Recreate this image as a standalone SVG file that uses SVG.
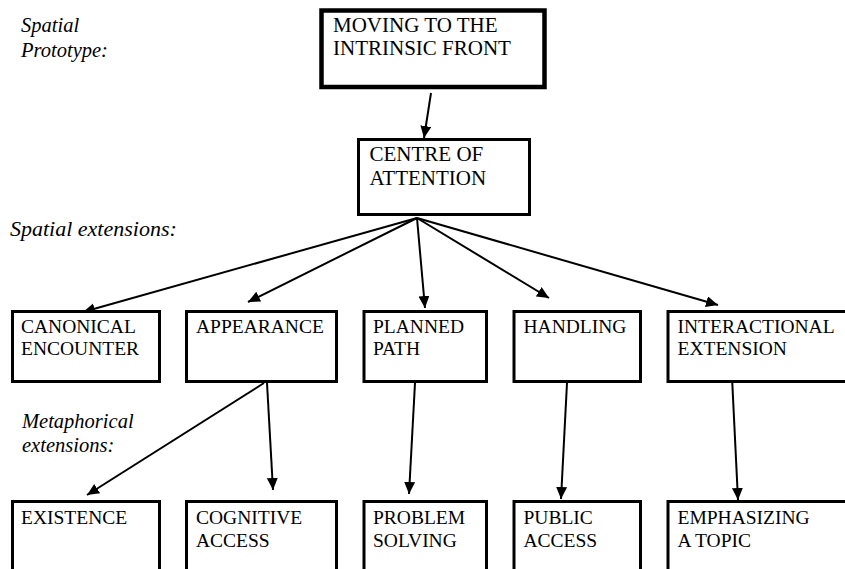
<svg xmlns="http://www.w3.org/2000/svg" width="845" height="569" viewBox="0 0 845 569" font-family="Liberation Serif, Times New Roman, serif">
<defs>
<style>
.box{fill:#fff;stroke:#000;stroke-width:3}
.thick{stroke-width:4.5}
.t{fill:#000}
.big{font-size:21px}
.med{font-size:19.5px}
.lab{font-style:italic;font-size:20.5px;fill:#000}
.c{stroke:#000;stroke-width:2;fill:none;marker-end:url(#ah)}
</style>
<marker id="ah" markerUnits="userSpaceOnUse" markerWidth="13" markerHeight="12" refX="12" refY="5.5" orient="auto">
<path d="M0,0 L12,5.5 L0,11 z" fill="#000"/>
</marker>
</defs>
<rect width="845" height="569" fill="#fff"/>
<g id="labels">
<text class="lab" x="21" y="32">Spatial</text>
<text class="lab" x="21" y="56.5">Prototype:</text>
<text class="lab" x="10" y="236" style="font-size:22px">Spatial extensions:</text>
<text class="lab" x="22" y="428">Metaphorical</text>
<text class="lab" x="22" y="452">extensions:</text>
</g>
<g id="connectors">
<line class="c" x1="431" y1="93" x2="424" y2="138"/>
<line class="c" x1="417" y1="218" x2="83" y2="312"/>
<line class="c" x1="417" y1="218" x2="248" y2="302"/>
<line class="c" x1="417" y1="218" x2="425" y2="308"/>
<line class="c" x1="417" y1="218" x2="549" y2="298"/>
<line class="c" x1="417" y1="218" x2="718" y2="305"/>
<line class="c" x1="264" y1="383" x2="87" y2="495"/>
<line class="c" x1="267" y1="383" x2="273" y2="490"/>
<line class="c" x1="415" y1="383" x2="409" y2="494"/>
<line class="c" x1="567" y1="383" x2="561" y2="499"/>
<line class="c" x1="732" y1="377" x2="738" y2="500"/>
</g>
<g id="n-moving">
<rect class="box thick" x="321.5" y="10.5" width="223" height="76.5"/>
<text class="t big" x="333" y="32">MOVING TO THE</text>
<text class="t big" x="333" y="55">INTRINSIC FRONT</text>
</g>
<g id="n-centre">
<rect class="box" x="358.5" y="139.5" width="171" height="75"/>
<text class="t big" x="369.5" y="161">CENTRE OF</text>
<text class="t big" x="369.5" y="185">ATTENTION</text>
</g>
<g id="n-canonical">
<rect class="box" x="12.5" y="311.5" width="147" height="70"/>
<text class="t med" x="21" y="333">CANONICAL</text>
<text class="t med" x="21" y="355">ENCOUNTER</text>
</g>
<g id="n-appearance">
<rect class="box" x="186.5" y="311.5" width="150" height="70"/>
<text class="t med" x="196" y="333">APPEARANCE</text>
</g>
<g id="n-planned">
<rect class="box" x="364" y="311.5" width="122.5" height="70"/>
<text class="t med" x="373" y="333">PLANNED</text>
<text class="t med" x="373" y="355">PATH</text>
</g>
<g id="n-handling">
<rect class="box" x="514" y="311.5" width="126.5" height="70"/>
<text class="t med" x="523.5" y="333">HANDLING</text>
</g>
<g id="n-interactional">
<rect class="box" x="668" y="311.5" width="185" height="70"/>
<text class="t med" x="677.5" y="333">INTERACTIONAL</text>
<text class="t med" x="677.5" y="355">EXTENSION</text>
</g>
<g id="n-existence">
<rect class="box" x="12.5" y="501.5" width="147" height="80"/>
<text class="t med" x="21" y="523.5">EXISTENCE</text>
</g>
<g id="n-cognitive">
<rect class="box" x="186.5" y="501.5" width="150" height="80"/>
<text class="t med" x="196" y="523.5">COGNITIVE</text>
<text class="t med" x="196" y="546.5">ACCESS</text>
</g>
<g id="n-problem">
<rect class="box" x="364" y="501.5" width="122.5" height="80"/>
<text class="t med" x="373" y="523.5">PROBLEM</text>
<text class="t med" x="373" y="546.5">SOLVING</text>
</g>
<g id="n-public">
<rect class="box" x="514" y="501.5" width="126.5" height="80"/>
<text class="t med" x="523.5" y="523.5">PUBLIC</text>
<text class="t med" x="523.5" y="546.5">ACCESS</text>
</g>
<g id="n-emphasizing">
<rect class="box" x="668" y="501.5" width="185" height="80"/>
<text class="t med" x="677.5" y="523.5">EMPHASIZING</text>
<text class="t med" x="677.5" y="546.5">A TOPIC</text>
</g>
</svg>
